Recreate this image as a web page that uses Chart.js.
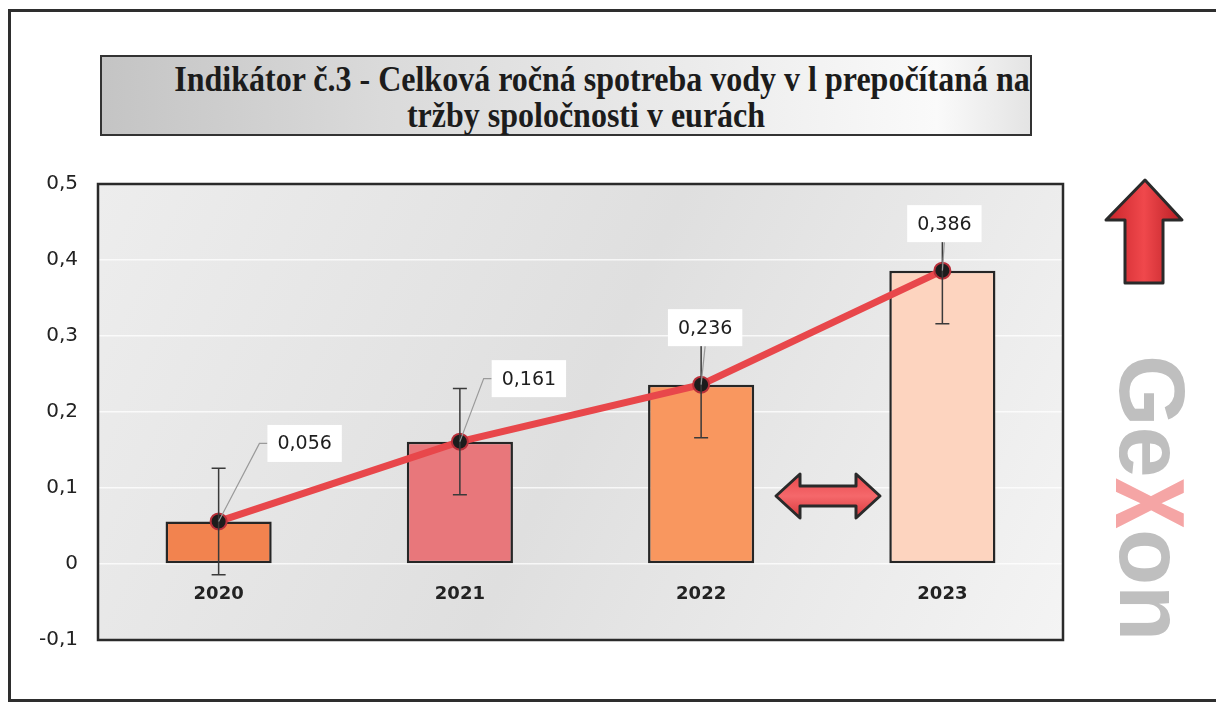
<!DOCTYPE html>
<html>
<head>
<meta charset="utf-8">
<script src="https://cdn.jsdelivr.net/npm/chart.js@4.4.1/dist/chart.umd.min.js"></script>
<style>
  html, body { margin: 0; padding: 0; background: #fff; }
  #wrap { position: relative; width: 1216px; height: 709px; overflow: hidden; }
  #frame {
    position: absolute; left: 8px; top: 9px; width: 1230px; height: 693px;
    border: 3px solid #2e2e2e; box-sizing: border-box;
  }
  #title {
    position: absolute; left: 100px; top: 55px; width: 932px; height: 81px;
    box-sizing: border-box; border: 2px solid #333;
    background: linear-gradient(to right, #c4c4c4 0%, #dadada 30%, #ececec 65%, #fafafa 90%, #e4e4e4 100%);
    font-family: "Liberation Serif", "Times New Roman", serif; font-weight: bold;
    font-size: 32px; color: #1c1c1c; text-align: center; line-height: 36px;
  }
  #title div { position: absolute; left: 0; right: 0; transform: scaleY(1.12); white-space: nowrap; }
  #gexon {
    position: absolute; left: 1117px; top: 355px; transform-origin: 0 0;
    transform: translate(70px, 0) rotate(90deg);
    font-family: "Liberation Sans", Arial, sans-serif; font-weight: bold;
    font-size: 92px; line-height: 70px; color: #bfbfbf; white-space: nowrap;
    letter-spacing: 0px;
  }
  #gexon span { color: #f5a5a5; display: inline-block; transform: scaleY(1.4); transform-origin: 50% 80%; }
  canvas { position: absolute; left: 0; top: 0; }
  svg { position: absolute; }
</style>
</head>
<body>
<div id="wrap">
  <div id="frame"></div>
  <div id="title">
    <div style="top:4px; padding-left:72px;">Indikátor č.3 - Celková ročná spotreba vody v l prepočítaná na</div>
    <div style="top:40px; padding-left:40px;">tržby spoločnosti v eurách</div>
  </div>
  <canvas id="chart" width="1216" height="709"></canvas>
  <div id="gexon">Ge<span>x</span>on</div>
  <svg style="left:1100px; top:176px;" width="90" height="112">
    <defs>
      <linearGradient id="ru" x1="0" x2="1" y1="0" y2="0">
        <stop offset="0" stop-color="#c8242a"/><stop offset="0.5" stop-color="#f0484c"/><stop offset="1" stop-color="#b81e24"/>
      </linearGradient>
    </defs>
    <path d="M45 4 L82 44 L63 44 L63 107 L25 107 L25 44 L6 44 Z" fill="url(#ru)" stroke="#2a2a2a" stroke-width="3" stroke-linejoin="round"/>
  </svg>
  <svg style="left:772px; top:470px;" width="112" height="52">
    <defs>
      <linearGradient id="rd" x1="0" x2="0" y1="0" y2="1">
        <stop offset="0" stop-color="#e8484c"/><stop offset="0.5" stop-color="#f5686b"/><stop offset="1" stop-color="#d8383c"/>
      </linearGradient>
    </defs>
    <path d="M4 26 L28 4 L28 16 L84 16 L84 4 L108 26 L84 48 L84 36 L28 36 L28 48 Z" fill="url(#rd)" stroke="#2a2a2a" stroke-width="3" stroke-linejoin="round"/>
  </svg>
</div>
<script>
// ---------------------------------------------------------------
//  Data
// ---------------------------------------------------------------
const years    = ["2020", "2021", "2022", "2023"];
const values   = [0.056, 0.161, 0.236, 0.386];
const errors   = [0.07, 0.07, 0.07, 0.07];
const barFills = ["#f2834f", "#e8777b", "#f9975f", "#fdd4bf"];
const yTicks   = [-0.1, 0, 0.1, 0.2, 0.3, 0.4, 0.5];

// label box offsets from each point (px)
const labelOffsets = [[86, -78], [69, -63], [4, -57], [2, -47]];

const fmt = v => v.toString().replace(".", ",");
const SANS = "'DejaVu Sans', Arial, sans-serif";

// ---------------------------------------------------------------
//  Plugins
// ---------------------------------------------------------------
const plotBg = {
  id: "plotBg",
  beforeDraw(chart) {
    const { ctx, chartArea: a } = chart;
    const g = ctx.createLinearGradient(a.left, a.top, a.right, a.bottom);
    g.addColorStop(0, "#ededed");
    g.addColorStop(0.5, "#dfdfdf");
    g.addColorStop(1, "#f4f4f4");
    ctx.save();
    ctx.fillStyle = g;
    ctx.fillRect(a.left, a.top, a.right - a.left, a.bottom - a.top);
    ctx.restore();
  },
  afterDraw(chart) {
    const { ctx, chartArea: a } = chart;
    ctx.save();
    ctx.strokeStyle = "#2a2a2a";
    ctx.lineWidth = 2.5;
    ctx.strokeRect(a.left, a.top, a.right - a.left, a.bottom - a.top);
    ctx.restore();
  },
};

const errorBars = {
  id: "errorBars",
  afterDatasetsDraw(chart) {
    const { ctx, scales: { x, y } } = chart;
    ctx.save();
    ctx.strokeStyle = "#3a3a3a";
    ctx.lineWidth = 1.5;
    values.forEach((v, i) => {
      const px = x.getPixelForValue(i);
      const top = y.getPixelForValue(v + errors[i]);
      const bot = y.getPixelForValue(v - errors[i]);
      ctx.beginPath();
      ctx.moveTo(px, top); ctx.lineTo(px, bot);
      ctx.moveTo(px - 7, top); ctx.lineTo(px + 7, top);
      ctx.moveTo(px - 7, bot); ctx.lineTo(px + 7, bot);
      ctx.stroke();
    });
    ctx.restore();
  },
};

const dataLabels = {
  id: "dataLabels",
  afterDatasetsDraw(chart) {
    const { ctx } = chart;
    const pts = chart.getDatasetMeta(0).data;
    ctx.save();
    ctx.font = "19px " + SANS;
    ctx.textAlign = "center";
    ctx.textBaseline = "middle";
    pts.forEach((p, i) => {
      const txt = fmt(values[i]);
      const w = ctx.measureText(txt).width + 20;
      const h = 37;
      const cx = p.x + labelOffsets[i][0];
      const cy = p.y + labelOffsets[i][1];
      // leader line
      ctx.strokeStyle = "#9a9a9a";
      ctx.lineWidth = 1.2;
      ctx.beginPath();
      ctx.moveTo(p.x, p.y);
      if (Math.abs(labelOffsets[i][0]) > 20) {
        const ex = cx - w / 2;
        ctx.lineTo(ex - 8, cy);
        ctx.lineTo(ex, cy);
      } else {
        ctx.lineTo(cx, cy + h / 2);
      }
      ctx.stroke();
      ctx.fillStyle = "#ffffff";
      ctx.fillRect(cx - w / 2, cy - h / 2, w, h);
      ctx.fillStyle = "#1e1e1e";
      ctx.fillText(txt, cx, cy + 1);
    });
    ctx.restore();
  },
};

// ---------------------------------------------------------------
//  Chart
// ---------------------------------------------------------------
new Chart(document.getElementById("chart"), {
  data: {
    labels: years,
    datasets: [
      {
        type: "line",
        data: values,
        order: 0,
        borderColor: "#e8474b",
        borderWidth: 7,
        pointRadius: 8,
        pointBackgroundColor: "#1c1c1c",
        pointBorderColor: "#b8303a",
        pointBorderWidth: 2,
      },
      {
        type: "bar",
        data: values,
        order: 1,
        backgroundColor: barFills,
        borderColor: "#262626",
        borderWidth: 2.5,
        borderSkipped: false,
        categoryPercentage: 1,
        barPercentage: 0.44,
      },
    ],
  },
  options: {
    responsive: false,
    animation: false,
    layout: { padding: { left: 0, right: 153, top: 184, bottom: 69 } },
    plugins: { legend: { display: false }, tooltip: { enabled: false } },
    scales: {
      x: {
        position: { y: 0 },
        grid: { display: false, drawTicks: false },
        border: { display: false },
        ticks: {
          color: "#222",
          padding: 20,
          font: { family: SANS, size: 18, weight: "bold" },
        },
      },
      y: {
        min: -0.1,
        max: 0.5,
        afterFit: s => { s.width = 98; },
        afterBuildTicks: s => { s.ticks = yTicks.map(v => ({ value: v })); },
        grid: { color: "rgba(255,255,255,0.75)", lineWidth: 1.5, drawTicks: false },
        border: { display: false },
        ticks: {
          color: "#222",
          padding: 20,
          font: { family: SANS, size: 20 },
          callback: v => fmt(Math.round(v * 10) / 10),
        },
      },
    },
  },
  plugins: [plotBg, errorBars, dataLabels],
});
</script>
</body>
</html>
